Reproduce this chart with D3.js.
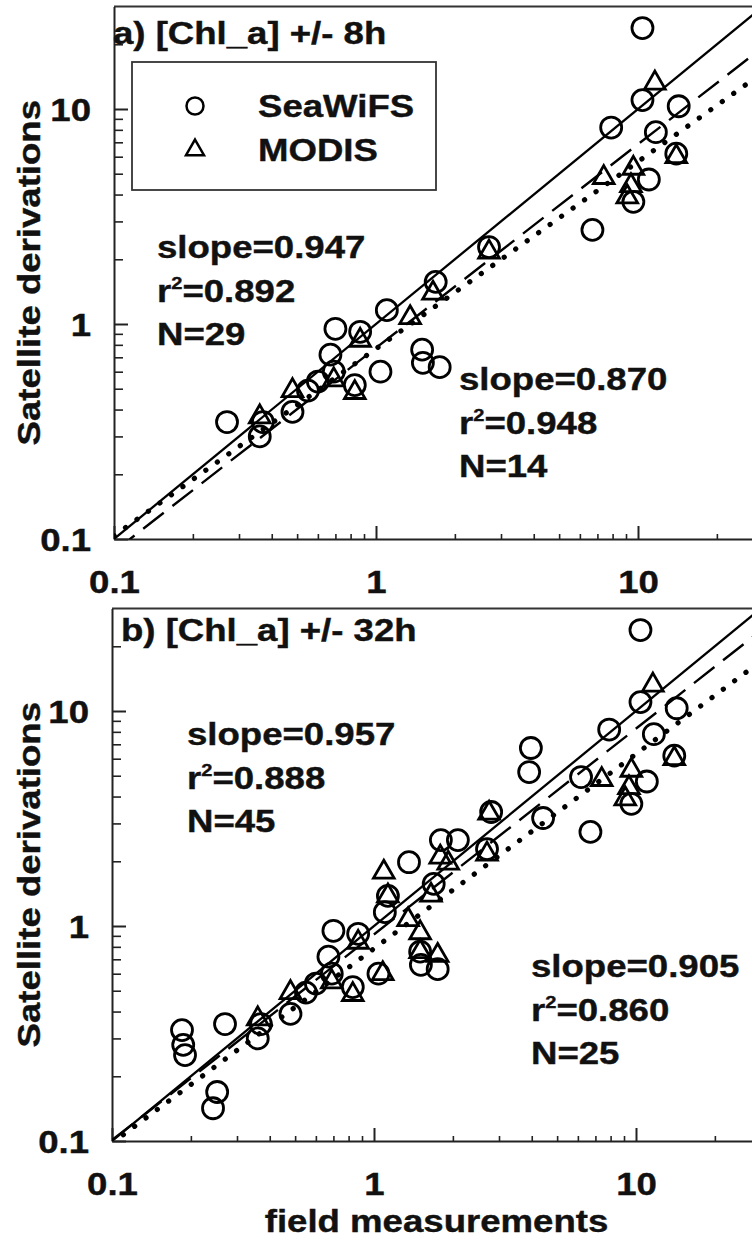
<!DOCTYPE html>
<html><head><meta charset="utf-8">
<script src="https://cdn.jsdelivr.net/npm/d3@7"></script>
<style>
html,body{margin:0;padding:0;background:#fff;}
svg{display:block;}
text{font-family:"Liberation Sans",Arial,Helvetica,sans-serif;font-weight:bold;fill:#111;stroke:#111;stroke-width:0.4px;}
</style></head><body>
<svg id="chart" width="752" height="1237"></svg>
<script>
// ---------------- data ----------------
const xDomain = [0.1, 30];
const yDomain = [0.1, 30];
const majorTicks = [0.1, 1, 10];
const majorTickLabels = ["0.1", "1", "10"];
const minorTicks = [0.2,0.3,0.4,0.5,0.6,0.7,0.8,0.9,2,3,4,5,6,7,8,9,20];

// (a) +/- 8h matchups
const seawifs8hX = [10.4, 7.9, 10.4, 14.3, 11.7, 11.0, 9.6, 14.0, 6.7, 2.70, 1.69, 1.10, 0.70, 0.87, 0.67, 0.69, 0.60, 0.55, 0.83, 1.04, 1.50, 1.51, 1.75, 0.48, 0.37, 0.36, 0.27];
const seawifs8hY = [23.8, 8.2, 11.0, 10.3, 7.8, 4.7, 3.7, 6.2, 2.74, 2.28, 1.57, 1.16, 0.95, 0.92, 0.72, 0.60, 0.54, 0.49, 0.52, 0.60, 0.76, 0.66, 0.63, 0.39, 0.35, 0.30, 0.35];
const modis8hX = [11.6, 14.0, 7.4, 9.6, 9.4, 9.1, 2.70, 1.65, 1.35, 0.87, 0.69, 0.83, 0.48, 0.36];
const modis8hY = [13.2, 6.0, 4.8, 5.3, 4.4, 3.9, 2.16, 1.39, 1.07, 0.84, 0.55, 0.48, 0.49, 0.37];

// additional matchups in the +/- 32h window
const seawifsExtra32hX = [3.97, 3.91, 6.17, 4.42, 2.80, 1.80, 2.09, 1.36, 0.185, 0.187, 0.190, 0.252, 0.243, 1.13];
const seawifsExtra32hY = [6.73, 5.20, 4.93, 3.18, 3.39, 2.51, 2.51, 1.98, 0.328, 0.280, 0.251, 0.169, 0.142, 1.38];
const modisExtra32hX = [1.09, 2.75, 1.79, 1.92, 1.50, 1.50, 1.75, 1.08, 1.13];
const modisExtra32hY = [1.78, 3.35, 2.09, 1.96, 0.93, 0.76, 0.73, 0.60, 1.38];

// regression fits: log10(y) = intercept + slope*log10(x)
const fitSlopesA = [0.947, 0.870];
const fitInterceptsA = [-0.111, -0.115];
const fitSlopesB = [0.957, 0.905];
const fitInterceptsB = [-0.039, -0.105];

const statsA = [["0.947","0.892","29"],["0.870","0.948","14"]];
const statsB = [["0.957","0.888","45"],["0.905","0.860","25"]];
const titles = ["a) [Chl_a] +/- 8h", "b) [Chl_a] +/- 32h"];
const legendLabels = ["SeaWiFS", "MODIS"];
const xLabel = "field measurements";
const yLabel = "Satellite derivations";

// --------------- drawing ---------------
const SX = 1.18, FS = 31;
const svg = d3.select("#chart");
const zip = (a, b) => a.map((v, i) => [v, b[i]]);

function stext(g, str, x, y, anchor) {
  return g.append("text").attr("transform", `translate(${x},${y}) scale(${SX},1)`)
    .attr("text-anchor", anchor || "start").attr("font-size", FS).text(str);
}
function statBlock(g, s, x, y) {
  stext(g, "slope=" + s[0], x, y);
  const t = g.append("text").attr("transform", `translate(${x},${y + 44}) scale(${SX},1)`).attr("font-size", FS);
  t.append("tspan").text("r");
  t.append("tspan").attr("font-size", 17).attr("dy", -13).text("2");
  t.append("tspan").attr("dy", 13).text("=" + s[1]);
  stext(g, "N=" + s[2], x, y + 87);
}

function panel(cfg) {
  const decades = Math.log10(xDomain[1] / xDomain[0]);
  const x = d3.scaleLog().domain(xDomain).range([cfg.left, cfg.left + 262 * decades]);
  const y = d3.scaleLog().domain(yDomain).range([cfg.bottom, cfg.bottom - 215 * Math.log10(yDomain[1] / yDomain[0])]);
  const g = svg.append("g");
  const [x0, x1] = x.range(), [y0, y1] = y.range();

  g.append("clipPath").attr("id", cfg.id).append("rect")
    .attr("x", x0).attr("y", y1).attr("width", x1 - x0).attr("height", y0 - y1);

  // frame
  g.append("line").attr("x1", x0).attr("x2", x1).attr("y1", y1).attr("y2", y1)
    .attr("stroke", "#333").attr("stroke-width", 2);
  g.append("line").attr("x1", x1).attr("x2", x1).attr("y1", y1).attr("y2", y0)
    .attr("stroke", "#333").attr("stroke-width", 2);

  const styleAxis = a => {
    a.attr("font-size", null).attr("font-family", null);
    a.selectAll("path,line").attr("stroke", "#222").attr("stroke-width", 2);
  };
  const yAx = g.append("g").attr("transform", `translate(${x0},0)`)
    .call(d3.axisLeft(y).tickValues(majorTicks).tickSize(-14).tickSizeOuter(0).tickPadding(23)
      .tickFormat((d, i) => majorTickLabels[i]));
  styleAxis(yAx);
  yAx.selectAll("text").attr("font-size", FS).attr("fill", "#111")
    .attr("transform", `scale(${SX},1)`).attr("x", -23 / SX).attr("dy", "0.36em");
  const yMin = g.append("g").attr("transform", `translate(${x0},0)`)
    .call(d3.axisLeft(y).tickValues(minorTicks).tickSize(-9).tickSizeOuter(0).tickFormat(""));
  styleAxis(yMin); yMin.select(".domain").remove();
  yMin.selectAll("line").attr("stroke-width", 1.6);

  const xAx = g.append("g").attr("transform", `translate(0,${y0})`)
    .call(d3.axisBottom(x).tickValues(majorTicks).tickSize(-13).tickSizeOuter(0).tickPadding(32)
      .tickFormat((d, i) => majorTickLabels[i]));
  styleAxis(xAx);
  xAx.selectAll("text").attr("font-size", FS).attr("fill", "#111").attr("transform", `scale(${SX},1)`);
  const xMin = g.append("g").attr("transform", `translate(0,${y0})`)
    .call(d3.axisBottom(x).tickValues(minorTicks).tickSize(-5).tickSizeOuter(0).tickFormat(""));
  styleAxis(xMin); xMin.select(".domain").remove();
  xMin.selectAll("line").attr("stroke-width", 1.6);

  // lines
  const lg = g.append("g").attr("clip-path", `url(#${cfg.id})`);
  const line = d3.line().x(d => x(d[0])).y(d => y(d[1]));
  const ends = xDomain;
  lg.append("path").attr("d", line(ends.map(v => [v, v])))
    .attr("fill", "none").attr("stroke", "#000").attr("stroke-width", 2.3);
  const fitStyles = [
    {dash: "26,11", w: 2.4, cap: "butt"},
    {dash: "0.1,14", w: 5.2, cap: "round"}
  ];
  cfg.slopes.forEach((s, i) => {
    const pts = ends.map(v => [v, Math.pow(10, cfg.intercepts[i] + s * Math.log10(v))]);
    lg.append("path").attr("d", line(pts)).attr("fill", "none").attr("stroke", "#000")
      .attr("stroke-width", fitStyles[i].w).attr("stroke-dasharray", fitStyles[i].dash)
      .attr("stroke-linecap", fitStyles[i].cap);
  });

  // markers
  g.append("g").selectAll("circle").data(cfg.circles).join("circle")
    .attr("cx", d => x(d[0])).attr("cy", d => y(d[1])).attr("r", 10.5)
    .attr("fill", "none").attr("stroke", "#000").attr("stroke-width", 2.8);
  const tri = d3.symbol().type(d3.symbolTriangle).size(185);
  g.append("g").selectAll("path").data(cfg.triangles).join("path")
    .attr("d", tri).attr("transform", d => `translate(${x(d[0])},${y(d[1])})`)
    .attr("fill", "none").attr("stroke", "#000").attr("stroke-width", 2.8).attr("stroke-linejoin", "miter");

  stext(g, cfg.title, cfg.titleX, cfg.titleY);
  statBlock(g, cfg.stats[0], cfg.s1[0], cfg.s1[1]);
  statBlock(g, cfg.stats[1], cfg.s2[0], cfg.s2[1]);

  g.append("text").attr("transform", `translate(40,${(y0 + y1) / 2}) rotate(-90) scale(${SX},1)`)
    .attr("text-anchor", "middle").attr("font-size", FS).text(yLabel);
  return {g, x, y};
}

const A = panel({
  id: "clipA", left: 114, bottom: 539,
  circles: zip(seawifs8hX, seawifs8hY), triangles: zip(modis8hX, modis8hY),
  slopes: fitSlopesA, intercepts: fitInterceptsA,
  title: titles[0], titleX: 113, titleY: 44,
  stats: statsA, s1: [157, 258], s2: [459, 390]
});
const B = panel({
  id: "clipB", left: 112, bottom: 1141,
  circles: zip(seawifs8hX.concat(seawifsExtra32hX), seawifs8hY.concat(seawifsExtra32hY)),
  triangles: zip(modis8hX.concat(modisExtra32hX), modis8hY.concat(modisExtra32hY)),
  slopes: fitSlopesB, intercepts: fitInterceptsB,
  title: titles[1], titleX: 121, titleY: 641,
  stats: statsB, s1: [187, 745], s2: [531, 977]
});

// legend (panel a)
const lg = A.g.append("g");
lg.append("rect").attr("x", 132).attr("y", 62).attr("width", 304).attr("height", 128)
  .attr("fill", "#fff").attr("stroke", "#333").attr("stroke-width", 1.8);
lg.append("circle").attr("cx", 195).attr("cy", 106).attr("r", 8.5)
  .attr("fill", "none").attr("stroke", "#000").attr("stroke-width", 2.5);
lg.append("path").attr("d", d3.symbol().type(d3.symbolTriangle).size(140))
  .attr("transform", "translate(195,150)").attr("fill", "none").attr("stroke", "#000").attr("stroke-width", 2.5);
stext(lg, legendLabels[0], 258, 117);
stext(lg, legendLabels[1], 258, 161);

stext(svg, xLabel, (B.x.range()[0] + B.x.range()[1]) / 2, 1232, "middle");
</script>
</body></html>
